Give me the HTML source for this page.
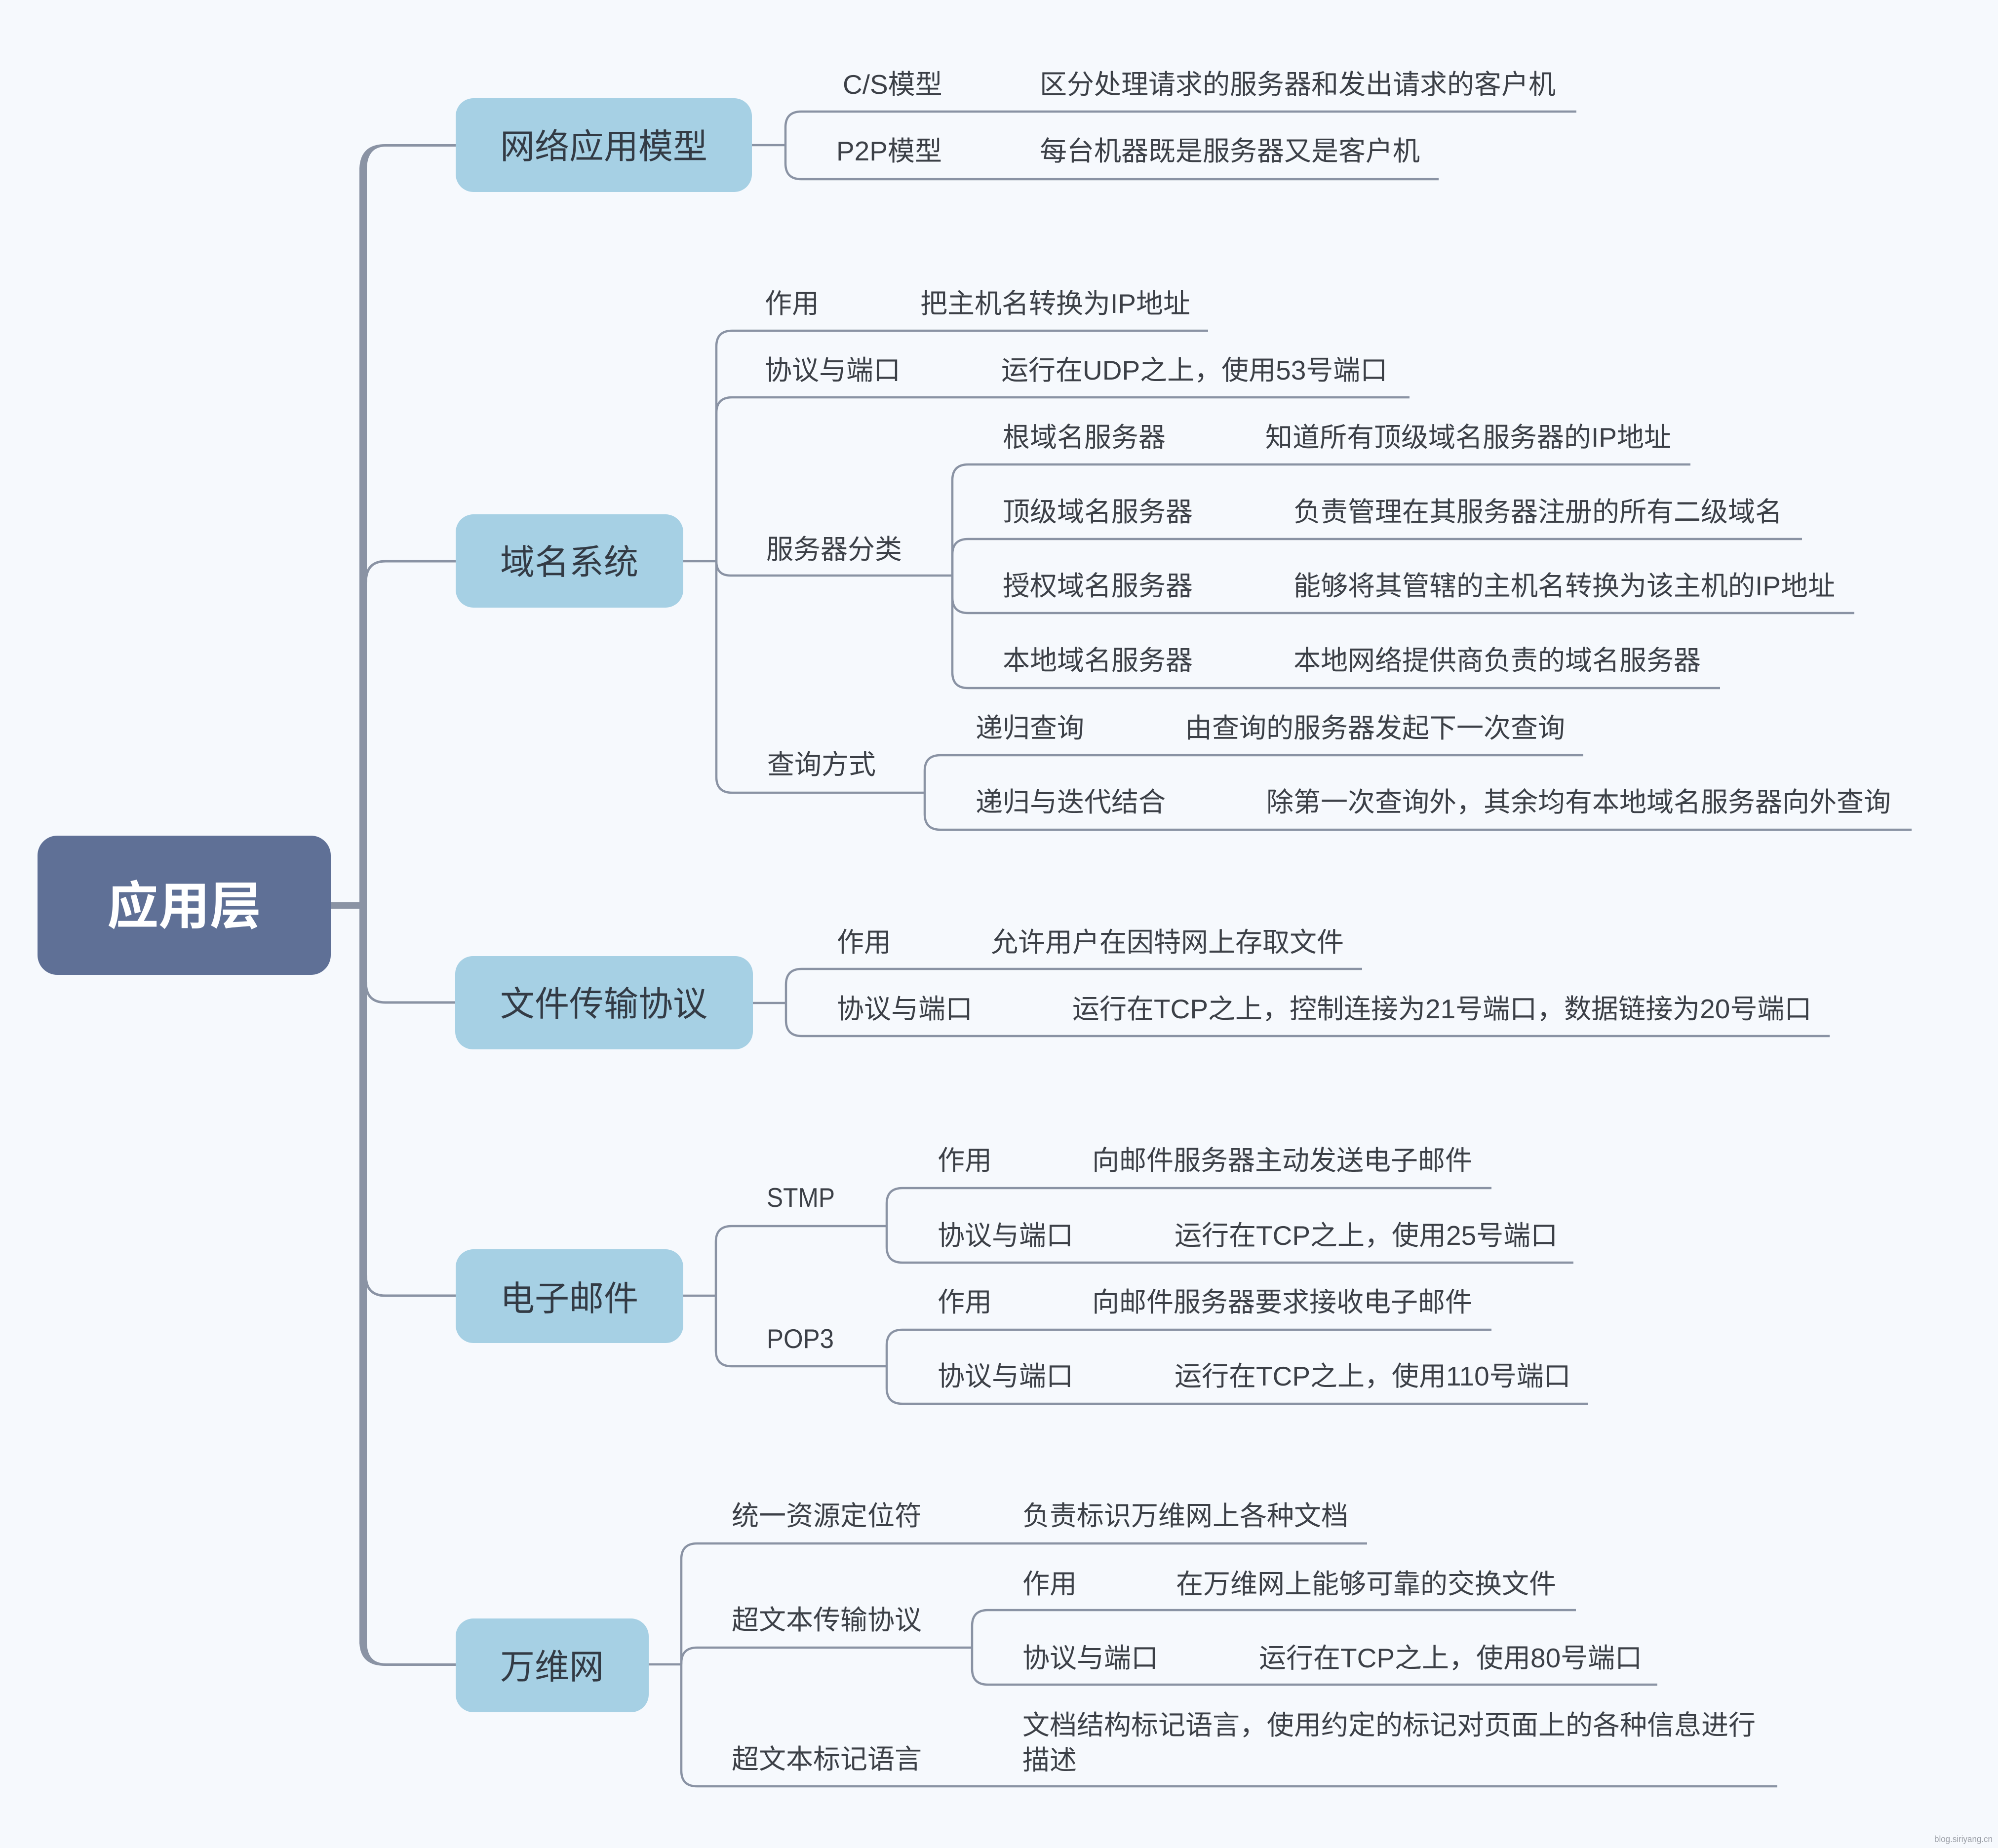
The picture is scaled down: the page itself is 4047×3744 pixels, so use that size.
<!DOCTYPE html>
<html>
<head>
<meta charset="utf-8">
<style>
html,body{margin:0;padding:0;background:#f6f9fd;}
svg{display:block;}
text{font-family:"Liberation Sans","Noto Sans CJK SC",sans-serif;}
</style>
</head>
<body>
<svg xmlns="http://www.w3.org/2000/svg" width="4047" height="3744" viewBox="0 0 4047 3744">
<rect x="0" y="0" width="4047" height="3744" fill="#f6f9fd"/>

<!-- trunk -->
<g fill="#8a93a4">
  <rect x="728" y="340" width="15" height="2990"/>
  <path d="M728,345 C728,310 745,292 780,292 H923 V297 H782 C758,297 743,310 743,345 Z"/>
  <path d="M728,3325 C728,3358 745,3375 780,3375 H923 V3370 H782 C758,3370 743,3358 743,3325 Z"/>
  <rect x="668" y="1828" width="68" height="13"/>
</g>
<g fill="none" stroke="#8a93a4" stroke-width="5">
  <path d="M741,1180 Q741,1137 781,1137 H923"/>
  <path d="M741,1990 Q741,2031 781,2031 H922"/>
  <path d="M741,2584 Q741,2625 781,2625 H923"/>
</g>

<!-- connectors -->
<g fill="none" stroke="#8a93a4" stroke-width="4.5">
  <!-- 网络应用模型 -->
  <path d="M1523,294 H1591"/>
  <path d="M1591,294 V258 Q1591,226 1623,226 H3193"/>
  <path d="M1591,294 V331 Q1591,363 1623,363 H2914"/>
  <!-- 域名系统 -->
  <path d="M1384,1137 H1451"/>
  <path d="M1451,1137 V702 Q1451,670 1483,670 H2447"/>
  <path d="M1451,1137 V837 Q1451,805 1483,805 H2855"/>
  <path d="M1451,1137 Q1451,1166 1480,1166 H1929"/>
  <path d="M1451,1137 V1574 Q1451,1606 1483,1606 H1873"/>
  <path d="M1929,1166 V973 Q1929,941 1961,941 H3424"/>
  <path d="M1929,1166 V1124 Q1929,1092 1961,1092 H3650"/>
  <path d="M1929,1166 V1210 Q1929,1242 1961,1242 H3756"/>
  <path d="M1929,1166 V1362 Q1929,1394 1961,1394 H3484"/>
  <path d="M1873,1606 V1562 Q1873,1530 1905,1530 H3207"/>
  <path d="M1873,1606 V1649 Q1873,1681 1905,1681 H3872"/>
  <!-- 文件传输协议 -->
  <path d="M1525,2032 H1592"/>
  <path d="M1592,2032 V1995 Q1592,1963 1624,1963 H2759"/>
  <path d="M1592,2032 V2067 Q1592,2099 1624,2099 H3706"/>
  <!-- 电子邮件 -->
  <path d="M1384,2625 H1450"/>
  <path d="M1450,2625 V2516 Q1450,2484 1482,2484 H1796"/>
  <path d="M1450,2625 V2736 Q1450,2768 1482,2768 H1796"/>
  <path d="M1796,2484 V2439 Q1796,2407 1828,2407 H3021"/>
  <path d="M1796,2484 V2526 Q1796,2558 1828,2558 H3187"/>
  <path d="M1796,2768 V2726 Q1796,2694 1828,2694 H3021"/>
  <path d="M1796,2768 V2812 Q1796,2844 1828,2844 H3217"/>
  <!-- 万维网 -->
  <path d="M1314,3372 H1380"/>
  <path d="M1380,3372 V3159 Q1380,3127 1412,3127 H2769"/>
  <path d="M1380,3372 V3370 Q1380,3338 1412,3338 H1969"/>
  <path d="M1380,3372 V3587 Q1380,3619 1412,3619 H3600"/>
  <path d="M1969,3338 V3294 Q1969,3262 2001,3262 H3192"/>
  <path d="M1969,3338 V3381 Q1969,3413 2001,3413 H3357"/>
</g>

<!-- root -->
<rect x="76" y="1693" width="594" height="282" rx="40" ry="40" fill="#5f7096"/>
<text x="373" y="1872" font-size="104" font-weight="bold" fill="#ffffff" text-anchor="middle">应用层</text>

<!-- level 1 boxes -->
<g fill="#a6d0e4">
  <rect x="923" y="199" width="600" height="190" rx="36" ry="36"/>
  <rect x="923" y="1042" width="461" height="189" rx="36" ry="36"/>
  <rect x="922" y="1937" width="603" height="189" rx="36" ry="36"/>
  <rect x="923" y="2531" width="461" height="190" rx="36" ry="36"/>
  <rect x="923" y="3279" width="391" height="190" rx="36" ry="36"/>
</g>
<g font-size="70" fill="#333b45" text-anchor="middle">
  <text x="1223" y="321">网络应用模型</text>
  <text x="1153" y="1163">域名系统</text>
  <text x="1223" y="2058">文件传输协议</text>
  <text x="1153" y="2655">电子邮件</text>
  <text x="1118" y="3401">万维网</text>
</g>

<!-- leaf texts -->
<g font-size="55" fill="#3c4047">
  <text x="1707" y="190">C/S模型</text>
  <text x="2106" y="190">区分处理请求的服务器和发出请求的客户机</text>
  <text x="1694" y="325">P2P模型</text>
  <text x="2106" y="325">每台机器既是服务器又是客户机</text>

  <text x="1549" y="634">作用</text>
  <text x="1864" y="634">把主机名转换为IP地址</text>
  <text x="1549" y="769">协议与端口</text>
  <text x="2028" y="769">运行在UDP之上，使用53号端口</text>
  <text x="1552" y="1132">服务器分类</text>
  <text x="1554" y="1568">查询方式</text>

  <text x="2031" y="905">根域名服务器</text>
  <text x="2563" y="905">知道所有顶级域名服务器的IP地址</text>
  <text x="2031" y="1056">顶级域名服务器</text>
  <text x="2620" y="1056">负责管理在其服务器注册的所有二级域名</text>
  <text x="2031" y="1206">授权域名服务器</text>
  <text x="2620" y="1206">能够将其管辖的主机名转换为该主机的IP地址</text>
  <text x="2031" y="1357">本地域名服务器</text>
  <text x="2620" y="1357">本地网络提供商负责的域名服务器</text>

  <text x="1976" y="1494">递归查询</text>
  <text x="2400" y="1494">由查询的服务器发起下一次查询</text>
  <text x="1976" y="1644">递归与迭代结合</text>
  <text x="2565" y="1644">除第一次查询外，其余均有本地域名服务器向外查询</text>

  <text x="1695" y="1928">作用</text>
  <text x="2007" y="1928">允许用户在因特网上存取文件</text>
  <text x="1695" y="2063">协议与端口</text>
  <text x="2172" y="2063">运行在TCP之上，控制连接为21号端口，数据链接为20号端口</text>

  <text x="1553" y="2445" textLength="138" lengthAdjust="spacingAndGlyphs">STMP</text>
  <text x="1553" y="2731" textLength="136" lengthAdjust="spacingAndGlyphs">POP3</text>
  <text x="1899" y="2370">作用</text>
  <text x="2212" y="2370">向邮件服务器主动发送电子邮件</text>
  <text x="1899" y="2522">协议与端口</text>
  <text x="2379" y="2522">运行在TCP之上，使用25号端口</text>
  <text x="1899" y="2657">作用</text>
  <text x="2212" y="2657">向邮件服务器要求接收电子邮件</text>
  <text x="1899" y="2807">协议与端口</text>
  <text x="2379" y="2807">运行在TCP之上，使用110号端口</text>

  <text x="1482" y="3090">统一资源定位符</text>
  <text x="2071" y="3090">负责标识万维网上各种文档</text>
  <text x="1482" y="3301">超文本传输协议</text>
  <text x="2071" y="3228">作用</text>
  <text x="2382" y="3228">在万维网上能够可靠的交换文件</text>
  <text x="2071" y="3378">协议与端口</text>
  <text x="2550" y="3378">运行在TCP之上，使用80号端口</text>
  <text x="1482" y="3583">超文本标记语言</text>
  <text x="2071" y="3514">文档结构标记语言，使用约定的标记对页面上的各种信息进行</text>
  <text x="2071" y="3585">描述</text>
</g>

<text x="3918" y="3732" font-size="18" fill="#9a9ea6" textLength="118" lengthAdjust="spacingAndGlyphs">blog.siriyang.cn</text>
</svg>
</body>
</html>
